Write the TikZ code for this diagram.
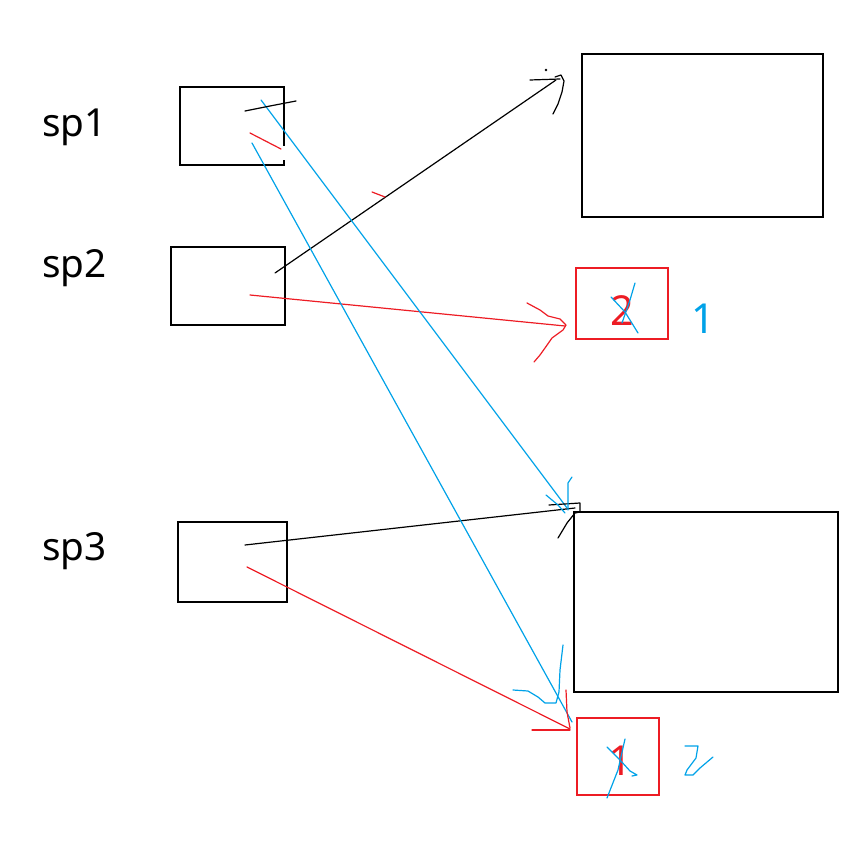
\documentclass[tikz,border=0pt]{standalone}
\usepackage{fontspec}
\setmainfont{Noto Sans}
\usetikzlibrary{calc}
\definecolor{pblue}{RGB}{0,162,232}
\definecolor{pred}{RGB}{237,28,36}
\tikzset{
  bbox/.style={draw=black, line width=1.3pt, inner sep=0pt, fill=none},
  rbox/.style={draw=pred, line width=1.3pt, inner sep=0pt},
  lbl/.style={anchor=base west, inner sep=0pt, font=\fontsize{29}{30}\selectfont},
  bline/.style={draw=black, line width=0.9pt, line cap=round, line join=round},
  rline/.style={draw=pred, line width=0.9pt, line cap=round, line join=round},
  uline/.style={draw=pblue, line width=0.9pt, line cap=round, line join=round},
  digit/.style={inner sep=0pt, font=\fontsize{31}{32}\selectfont},
}
\begin{document}
\begin{tikzpicture}[x=0.75pt,y=-0.75pt]
\useasboundingbox (0,0) rectangle (868,845);
% labels
\node[lbl] (l1) at (42,137) {sp1};
\node[lbl] (l2) at (42,277) {sp2};
\node[lbl] (l3) at (42,560) {sp3};
% left boxes
\node[inner sep=0pt, minimum width=104*0.75pt, minimum height=78*0.75pt] (s1) at (232,126) {};
\draw[line width=1.3pt] ($(s1.north east)+(0,-59*0.75pt)$) -- (s1.north east) -- (s1.north west) -- (s1.south west) -- (s1.south east) -- ($(s1.south east)+(0,5*0.75pt)$);
\node[bbox, minimum width=114*0.75pt, minimum height=78*0.75pt] (s2) at (228,286) {};
\node[bbox, minimum width=109*0.75pt, minimum height=80*0.75pt] (s3) at (232.5,562) {};
% right boxes
\node[bbox, minimum width=241*0.75pt, minimum height=163*0.75pt] (t1) at (702.5,135.5) {};
\node[rbox, minimum width=92*0.75pt, minimum height=71*0.75pt] (r2) at (622,303.5) {};
\node[bbox, minimum width=264*0.75pt, minimum height=180*0.75pt] (t2) at (706,602) {};
\node[rbox, minimum width=82*0.75pt, minimum height=77*0.75pt] (r1) at (618,756.5) {};
% digits
\node[digit, text=pred] (d2) at (622,311) {2};
\node[digit, text=pblue] (n1) at (703,319) {1};
\node[digit, text=pred] (d1) at (620,761) {1};
% connector end points
\coordinate (a1) at (275,273); \coordinate (a2) at (556,80);
\coordinate (b1) at (250,295); \coordinate (b2) at (565,326);
\coordinate (c1) at (245,545); \coordinate (c2) at (575,508);
\coordinate (e1) at (247,567); \coordinate (e2) at (570,729);
\coordinate (f1) at (261,100); \coordinate (f2) at (567,508);
\coordinate (g1) at (252,143); \coordinate (g2) at (572,722);
% connectors
\draw[bline] (a1) -- (a2);
\draw[rline] (b1) -- (b2);
\draw[bline] (c1) -- (c2);
\draw[rline] (e1) -- (e2);
\draw[uline] (f1) -- (f2);
\draw[uline] (g1) -- (g2);
% ticks inside sp1
\draw[bline] (245,111) -- (270,106) -- (296,101);
\draw[rline] (250,133) -- (281,149);
% red tick on black line
\draw[rline] (372,192) -- (385,197);
% top black arrowhead
\draw[bline] (530,80) -- (560,79);
\fill (546,70) circle (1pt);
\draw[bline] (555,77) -- (561,75) -- (564,81) -- (562,92) -- (558,104) -- (553,114);
% red arrowhead at box 2
\draw[rline] (527,303) -- (540,310) -- (548,316) -- (560,319) -- (566,325) -- (563,330) -- (552,338) -- (545,348) -- (540,355) -- (534,362);
% black arrowhead at lower box
\draw[bline] (549,505) -- (580,503) -- (580,512) -- (575,513) -- (567,523) -- (558,538);
% blue arrowhead at lower box
\draw[uline] (546,495) -- (558,505) -- (565,513);
\draw[uline] (572,477) -- (568,483) -- (568,510);
% red arrowhead at box 1
\draw[rline] (532,730) -- (570,730);
\draw[rline] (566,690) -- (567,712) -- (570,728);
% blue arrowhead at box 1
\draw[uline] (513,690) -- (528,691) -- (538,697) -- (545,703) -- (556,703) -- (559,692) -- (560,670) -- (563,645);
% blue crossing over digits
\draw[uline] (635,283) -- (630,300) -- (622,323);
\draw[uline] (611,297) -- (625,312) -- (638,333);
\draw[uline] (607,747) -- (620,760) -- (630,771) -- (637,775) -- (632,776);
\draw[uline] (625,739) -- (618,770) -- (607,798);
% handwritten blue 2
\draw[uline] (685,746) -- (698,746) -- (696,758) -- (687,770) -- (685,775) -- (693,775) -- (700,768) -- (713,757);
\end{tikzpicture}
\end{document}
